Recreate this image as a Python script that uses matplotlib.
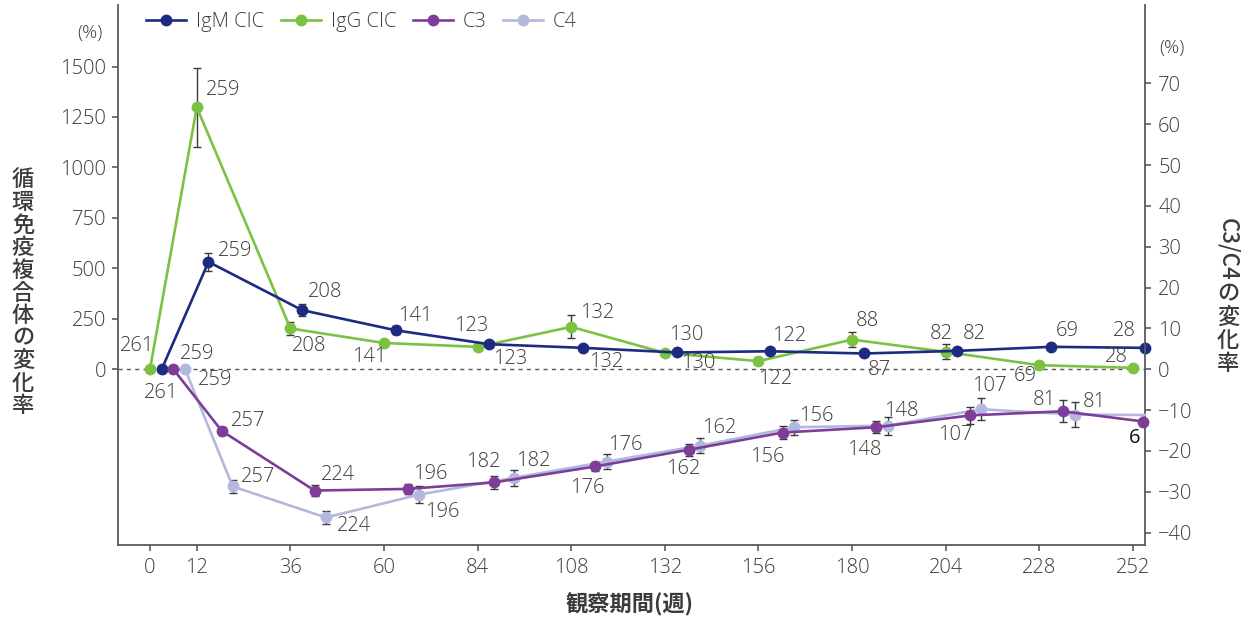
import matplotlib
matplotlib.use("Agg")
import matplotlib.pyplot as plt
from matplotlib.lines import Line2D
from matplotlib import font_manager

# ---- data -------------------------------------------------------------
# visit positions (weeks) for each series; series are staggered slightly
weeks_igg = [0, 12, 36, 60, 84, 108, 132, 156, 180, 204, 228, 252]
weeks_igm = [3, 15, 39, 63, 87, 111, 135, 159, 183, 207, 231, 255]
weeks_c3 = [6, 18.4, 42.2, 66.2, 88.3, 114.2, 138.2, 162.2, 186.2, 210.3, 234, 254.7]
weeks_c4 = [9, 21.2, 45.1, 69, 93.2, 117.1, 141.1, 165.1, 189.1, 213.1, 237.2, 255]

# percent change (left axis)
igm_change = [0, 532, 293, 193, 124, 106, 83, 89, 78, 91, 111, 106]
igm_err = [0, 43, 28, 20, 12, 0, 0, 0, 0, 0, 0, 0]
igg_change = [0, 1298, 202, 130, 111, 210, 81, 40, 147, 86, 20, 7]
igg_err = [0, 195, 31, 15, 12, 57, 10, 0, 37, 37, 0, 0]

# percent change (right axis)
c3_change = [0, -15.1, -29.7, -29.3, -27.7, -23.8, -19.7, -15.5, -14.2, -11.3, -10.3, -12.8]
c3_err = [0, 1.0, 1.4, 1.2, 1.6, 1.2, 1.5, 1.5, 1.5, 2.0, 2.7, 0]
c4_change = [0, -28.7, -36.3, -30.7, -26.6, -22.6, -18.7, -14.2, -13.8, -9.8, -11.1, -11.2]
c4_err = [0, 1.6, 1.6, 2.0, 2.0, 1.9, 1.9, 1.8, 2.2, 2.7, 3.0, 0]

# number of patients at each visit
igm_n = [261, 259, 208, 141, 123, 132, 130, 122, 87, 82, 69, 28]
igg_n = [261, 259, 208, 141, 123, 132, 130, 122, 88, 82, 69, 28]
c3_n = [259, 257, 224, 196, 182, 176, 162, 156, 148, 107, 81, 6]
c4_n = [259, 257, 224, 196, 182, 176, 162, 156, 148, 107, 81, None]

x_ticks = [0, 12, 36, 60, 84, 108, 132, 156, 180, 204, 228, 252]
left_ticks = [0, 250, 500, 750, 1000, 1250, 1500]
right_ticks = [-40, -30, -20, -10, 0, 10, 20, 30, 40, 50, 60, 70]

labels = ["IgM CIC", "IgG CIC", "C3", "C4"]
left_title = "循環免疫複合体の変化率"
right_title_latin = "C3/C4"
right_title_cjk = "の変化率"
x_title = "観察期間(週)"

# ---- label placement (pixel offsets: right, down) ----------------------
igg_off = [(-13, -23), (26, -17), (19, 18), (-15, 14), (-6, -21), (26, -14),
           (21, -18), (17, 18), (15, -19), (-4, -18), (-14, 11), (-16, -11)]
igm_off = [(-1, 24), (27, -11), (23, -18), (20, -14), (21, 15), (23, 14),
           (22, 11), (19, -15), (16, 17), (17, -17), (16, -16), (-20, -17)]
c3_off = [(24, -15), (26, -10), (23, -16), (22, -15), (-11, -20), (-8, 22),
          (-6, 19), (-15, 24), (-12, 23), (-15, 20), (-18, -11), (-9, 16)]
c4_off = [(30, 11), (25, -9), (28, 9), (23, 17), (20, -17), (19, -17),
          (19, -18), (22, -11), (14, -15), (8, -23), (19, -13), None]

# ---- style ---------------------------------------------------------------
available = {f.name for f in font_manager.fontManager.ttflist}
num_font = [f for f in ["Open Sans", "Lato", "DejaVu Sans"] if f in available] + ["DejaVu Sans"]
cjk_font = ["Noto Sans CJK JP", "DejaVu Sans"]
plt.rcParams["font.family"] = num_font
plt.rcParams["font.weight"] = "light"
plt.rcParams["axes.unicode_minus"] = True

TEXT = "#3b3b3b"
SPINE = "#5a5a5a"
COL_IGM = "#1d2a82"
COL_IGG = "#7cc242"
COL_C3 = "#7e3d98"
COL_C4 = "#b2b8de"
FS = 14.5

W, H = 1250, 624
fig = plt.figure(figsize=(W / 100, H / 100), dpi=100)
ax = fig.add_axes([118 / W, (H - 545) / H, (1145 - 118) / W, (545 - 5) / H])
ax2 = ax.twinx()

L_LO, L_HI = -871, 1805
K = 20.24
ax.set_xlim(-8.2, 255.1)
ax.set_ylim(L_LO, L_HI)
ax2.set_ylim(L_LO / K, L_HI / K)

line_kw = dict(lw=1.9, marker="o", ms=7.5, clip_on=False)
err_kw = dict(fmt="none", ecolor="#3a3a3a", elinewidth=1.0, capsize=3.2, capthick=1.0)

ax.axhline(0, color="#555555", lw=1.0, ls=(0, (3, 3)), zorder=1)

ax.errorbar(weeks_igg, igg_change, yerr=igg_err, zorder=2, **err_kw)
ax.errorbar(weeks_igm, igm_change, yerr=igm_err, zorder=2, **err_kw)
ax.plot(weeks_igg, igg_change, color=COL_IGG, zorder=3, **line_kw)
ax.plot(weeks_igm, igm_change, color=COL_IGM, zorder=4, **line_kw)

ax2.errorbar(weeks_c4, c4_change, yerr=c4_err, zorder=2, **err_kw)
ax2.errorbar(weeks_c3, c3_change, yerr=c3_err, zorder=2, **err_kw)
ax2.plot(weeks_c4, c4_change, color=COL_C4, zorder=3,
         markevery=list(range(len(weeks_c4) - 1)), **line_kw)
ax2.plot(weeks_c3, c3_change, color=COL_C3, zorder=4, **line_kw)


def annotate_n(axis, xs, ys, ns, offs, color=TEXT, weight="light"):
    for xv, yv, n, off in zip(xs, ys, ns, offs):
        if n is None or off is None:
            continue
        axis.annotate(str(n), (xv, yv), xytext=(off[0], -off[1]),
                      textcoords="offset pixels", ha="center", va="center",
                      fontsize=FS, color=color, fontweight=weight, zorder=6,
                      annotation_clip=False)


annotate_n(ax, weeks_igg, igg_change, igg_n, igg_off)
annotate_n(ax, weeks_igm, igm_change, igm_n, igm_off)
annotate_n(ax2, weeks_c3[:-1], c3_change[:-1], c3_n[:-1], c3_off[:-1])
annotate_n(ax2, weeks_c3[-1:], c3_change[-1:], c3_n[-1:], c3_off[-1:],
           color="#111111", weight="normal")
annotate_n(ax2, weeks_c4, c4_change, c4_n, c4_off)

# ---- axes ----------------------------------------------------------------
for a in (ax, ax2):
    a.spines["top"].set_visible(False)
    for s in ("left", "right", "bottom"):
        a.spines[s].set_color(SPINE)
        a.spines[s].set_linewidth(1.3)
ax.spines["right"].set_visible(False)
ax2.spines["left"].set_visible(False)
ax2.spines["bottom"].set_visible(False)

ax.set_xticks(x_ticks)
ax.set_xticklabels([str(t) for t in x_ticks])
ax.set_yticks(left_ticks)
ax.set_yticklabels([str(t) for t in left_ticks])
ax2.set_yticks(right_ticks)
ax2.set_yticklabels([f"{t}".replace("-", "\u2212") for t in right_ticks])

ax.tick_params(axis="x", length=4.5, width=1.2, color=SPINE, labelsize=FS,
               labelcolor=TEXT, pad=5)
ax.tick_params(axis="y", length=4.5, width=1.2, color=SPINE, labelsize=FS,
               labelcolor=TEXT, pad=4)
ax2.tick_params(axis="y", length=4.5, width=1.2, color=SPINE, labelsize=FS,
                labelcolor=TEXT, pad=5)

# unit markers
fig.text(90 / W, 1 - 33 / H, "(%)", ha="center", va="center", fontsize=FS - 1, color=TEXT)
fig.text(1172 / W, 1 - 48 / H, "(%)", ha="center", va="center", fontsize=FS - 1, color=TEXT)

# left vertical title: upright characters stacked top to bottom
for i, ch in enumerate(left_title):
    fig.text(23 / W, 1 - (180 + i * 22.6) / H, ch, ha="center", va="center",
             fontsize=16, fontweight="medium", color=TEXT, family=cjk_font)

# right vertical title: latin part rotated, kana/kanji upright
fig.text(1228 / W, 1 - 249 / H, right_title_latin, ha="center", va="center",
         rotation=-90, fontsize=16, fontweight="medium", color=TEXT, family=cjk_font)
for i, ch in enumerate(right_title_cjk):
    fig.text(1228 / W, 1 - (294 + i * 23.3) / H, ch, ha="center", va="center",
             fontsize=16, fontweight="medium", color=TEXT, family=cjk_font)

fig.text(630 / W, 1 - 605 / H, x_title, ha="center", va="center", fontsize=16,
         fontweight="bold", color=TEXT, family=cjk_font)

# legend
handles = [Line2D([], [], color=c, lw=1.9, marker="o", ms=7.5)
           for c in (COL_IGM, COL_IGG, COL_C3, COL_C4)]
leg = fig.legend(handles, labels, loc="center left",
                 bbox_to_anchor=(146 / W, 1 - 22 / H), ncol=4, frameon=False,
                 fontsize=FS, handlelength=2.0, handletextpad=0.5,
                 columnspacing=0.8, borderpad=0, borderaxespad=0)
for t in leg.get_texts():
    t.set_color(TEXT)

fig.savefig("out.png", dpi=100)
